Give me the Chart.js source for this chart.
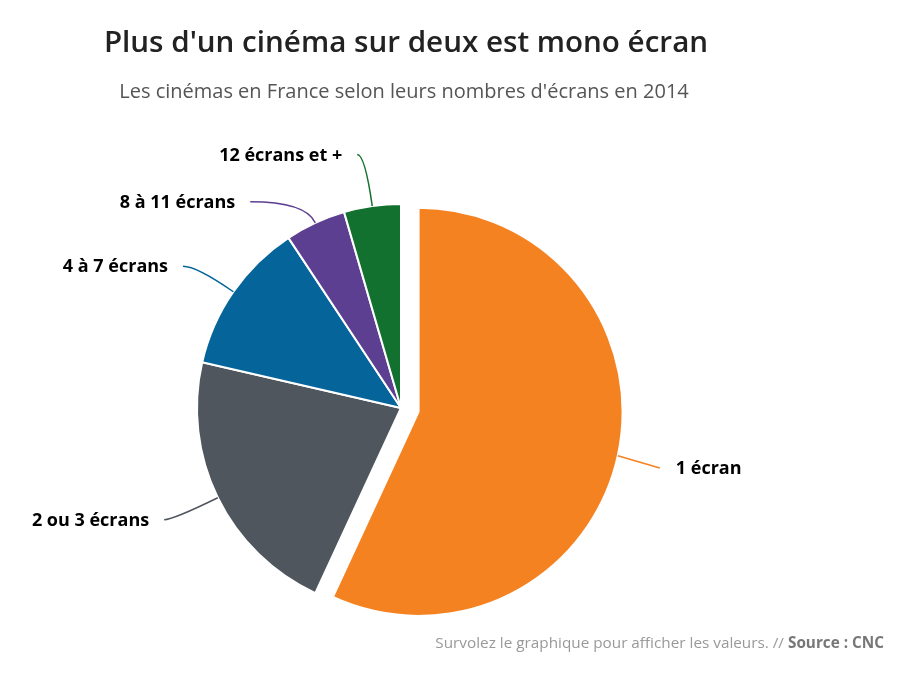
<!DOCTYPE html>
<html lang="fr">
<head>
<meta charset="utf-8">
<script src="https://cdn.jsdelivr.net/npm/chart.js@4"></script>
<style>
  html, body { margin: 0; padding: 0; background: #fff; }
  #wrap { position: relative; width: 900px; height: 674px; font-family: "Open Sans", sans-serif; }
  #titre { position: absolute; left: 0; width: 812px; top: 20px; text-align: center; font-size: 29.6px; font-weight: 600; color: #222; }
  #soustitre { position: absolute; left: 0; width: 808px; top: 77px; text-align: center; font-size: 20px; color: #555; }
  #source { position: absolute; right: 16px; top: 632px; font-size: 15.3px; color: #999; }
  #source b { color: #777; }
  canvas { position: absolute; left: 0; top: 0; }
</style>
</head>
<body>
<div id="wrap">
  <canvas id="myChart" width="900" height="674"></canvas>
  <div id="titre">Plus d'un cinéma sur deux est mono écran</div>
  <div id="soustitre">Les cinémas en France selon leurs nombres d'écrans en 2014</div>
  <div id="source">Survolez le graphique pour afficher les valeurs. // <b>Source : CNC</b></div>
</div>
<script>
// données (part des cinémas, en %)
var categories = ['1 écran', '2 ou 3 écrans', '4 à 7 écrans', '8 à 11 écrans', '12 écrans et +'];
var parts = [56.9, 21.7, 12.1, 4.8, 4.5];

var couleurs = ['#f58220', '#50565e', '#05649a', '#5d3f92', '#13712f'];
// part détachée du camembert (en px)
var eclatement = [18, 0, 0, 0, 0];
// petits décalages des étiquettes pour éviter les chevauchements
var decalages = [[0, 3], [-15, 3], [-15, -1], [-47, 18], [-9, -9]];

// détache une part sans l'agrandir (l'option offset de Chart.js grossit aussi la part)
var eclate = {
  id: 'eclate',
  beforeDatasetsDraw: function (chart) {
    chart.getDatasetMeta(0).data.forEach(function (arc, i) {
      if (!eclatement[i] || arc._eclate) return;
      arc._eclate = true;
      var drawOrig = arc.draw;
      arc.draw = function (ctx) {
        var mid = (this.startAngle + this.endAngle) / 2;
        ctx.save();
        ctx.translate(Math.cos(mid) * eclatement[i], Math.sin(mid) * eclatement[i]);
        drawOrig.call(this, ctx);
        ctx.restore();
      };
    });
  }
};

// étiquettes extérieures avec leur trait de liaison
var etiquettes = {
  id: 'etiquettes',
  afterDatasetsDraw: function (chart) {
    var ctx = chart.ctx;
    var meta = chart.getDatasetMeta(0);
    ctx.save();
    ctx.font = 'bold 18px "Open Sans", sans-serif';
    ctx.textBaseline = 'middle';
    meta.data.forEach(function (arc, i) {
      var p = arc.getProps(['x', 'y', 'startAngle', 'endAngle', 'outerRadius'], true);
      var mid = (p.startAngle + p.endAngle) / 2;
      var dx = Math.cos(mid), dy = Math.sin(mid);
      var r = p.outerRadius + eclatement[i];
      var x0 = p.x + dx * r, y0 = p.y + dy * r;
      var ex = p.x + dx * (r + 43) + decalages[i][0];
      var ey = p.y + dy * (r + 43) + decalages[i][1];
      // point de contrôle : rayon prolongé jusqu'à la hauteur de l'étiquette
      var cx = ex;
      if (Math.abs(dy) > 0.01) {
        cx = x0 + dx * ((ey - y0) / dy);
      }
      cx = Math.max(Math.min(x0, ex), Math.min(Math.max(x0, ex), cx));
      ctx.strokeStyle = couleurs[i];
      ctx.lineWidth = 1.5;
      ctx.beginPath();
      ctx.moveTo(x0, y0);
      ctx.quadraticCurveTo(cx, ey, ex, ey);
      ctx.stroke();
      ctx.fillStyle = '#000';
      if (dx >= 0) {
        ctx.textAlign = 'left';
        ctx.fillText(categories[i], ex + 16, ey + 1);
      } else {
        ctx.textAlign = 'right';
        ctx.fillText(categories[i], ex - 15, ey + 1);
      }
    });
    ctx.restore();
  }
};

var ctx = document.getElementById('myChart').getContext('2d');
var myChart = new Chart(ctx, {
  type: 'pie',
  data: {
    labels: categories,
    datasets: [{
      data: parts,
      backgroundColor: couleurs,
      borderColor: '#ffffff',
      borderWidth: 2,
      hoverOffset: 0
    }]
  },
  options: {
    responsive: false,
    animation: false,
    radius: 204,
    layout: { padding: { top: 150, bottom: 8, left: 100, right: 198 } },
    plugins: {
      legend: { display: false },
      tooltip: { enabled: false }
    }
  },
  plugins: [eclate, etiquettes]
});
</script>
</body>
</html>
